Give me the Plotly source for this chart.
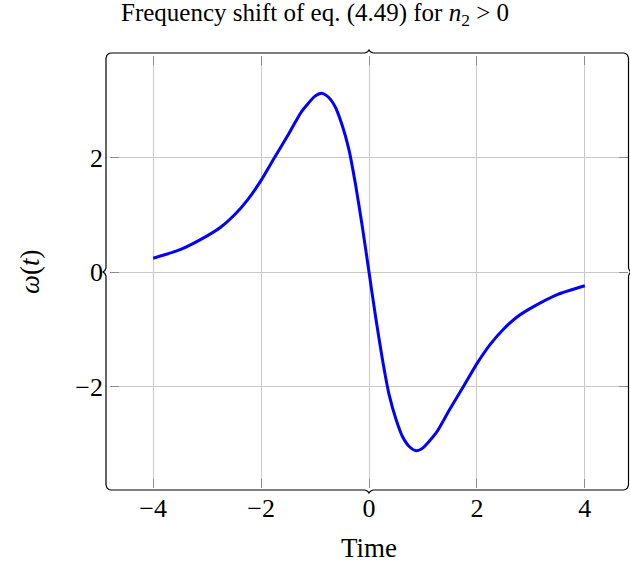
import plotly.graph_objects as go

# Data
time = [-4.0, -3.5, -3.0, -2.75, -2.5, -2.25, -2.0, -1.75, -1.5, -1.25, -1.0, -0.875, -0.75,
        -0.625, -0.5, -0.375, -0.25, -0.125, 0.0, 0.125, 0.25, 0.375, 0.5, 0.625, 0.75,
        0.875, 1.0, 1.25, 1.5, 1.75, 2.0, 2.25, 2.5, 2.75, 3.0, 3.5, 4.0]
omega = [0.24, 0.39, 0.63, 0.78, 0.99, 1.26, 1.60, 2.00, 2.39, 2.80, 3.07, 3.12, 3.05,
         2.88, 2.57, 2.15, 1.53, 0.80, 0.0, -0.80, -1.53, -2.15, -2.57, -2.88, -3.05,
         -3.12, -3.07, -2.80, -2.39, -2.00, -1.60, -1.26, -0.99, -0.78, -0.63, -0.39, -0.24]
x_ticks = [-4, -2, 0, 2, 4]
y_ticks = [-2, 0, 2]

W, H = 630, 564
L, R, T, B = 110, 2, 56, 76
PW, PH = W - L - R, H - T - B

def px(x, y):
    return (x - L) / PW, (H - B - y) / PH

def path(points):
    s = ""
    for i, (x, y) in enumerate(points):
        a, b = px(x, y)
        s += ("M" if i == 0 else " L") + f"{a:.5f},{b:.5f}"
    return s

FONT = "Liberation Serif"

def lab(v):
    return ("−" + str(-v)) if v < 0 else str(v)

fig = go.Figure()
fig.add_trace(go.Scatter(x=time, y=omega, mode="lines",
                         line=dict(color="#0000ff", width=3, shape="spline", smoothing=0.6),
                         showlegend=False))

# brace-style axis frame
xl, xr, yt, yb, cx, cy = 106, 628.5, 53, 490, 369, 272
r = 5
shapes = []
def seg(pts):
    shapes.append(dict(type="path", xref="paper", yref="paper", path=path(pts),
                       line=dict(color="black", width=1.2)))
# top
seg([(xl, yt + r), (xl + 1, yt + 2), (xl + 3, yt + 0.5), (xl + r, yt), (cx - 4, yt), (cx - 1.5, yt - 1.2), (cx, yt - 3),
     (cx + 1.5, yt - 1.2), (cx + 4, yt), (xr - r, yt), (xr - 3, yt + 0.5), (xr - 1, yt + 2), (xr, yt + r)])
# bottom
seg([(xl, yb - r), (xl + 1, yb - 2), (xl + 3, yb - 0.5), (xl + r, yb), (cx - 4, yb), (cx - 1.5, yb + 1.2), (cx, yb + 3),
     (cx + 1.5, yb + 1.2), (cx + 4, yb), (xr - r, yb), (xr - 3, yb - 0.5), (xr - 1, yb - 2), (xr, yb - r)])
# left
seg([(xl, yt + r), (xl, cy - 4), (xl - 1.2, cy - 1.5), (xl - 3, cy), (xl - 1.2, cy + 1.5), (xl, cy + 4), (xl, yb - r)])
# right
seg([(xr, yt + r), (xr, cy - 4), (xr + 1, cy - 1.5), (xr + 2, cy), (xr + 1, cy + 1.5), (xr, cy + 4), (xr, yb - r)])

tx, ty = px(315, 15)
ylx, yly = px(30, 272)
xlx, xly = px(369, 548)
annotations = [
    dict(text="Frequency shift of eq. (4.49) for <i>n</i><sub>2</sub> &gt; 0", x=tx, y=ty,
         xref="paper", yref="paper", showarrow=False, font=dict(family=FONT, size=25, color="black"),
         xanchor="center", yanchor="middle"),
    dict(text="<i>ω</i>(<i>t</i>)", x=ylx, y=yly, xref="paper", yref="paper", showarrow=False,
         textangle=-90, font=dict(family=FONT, size=27, color="black"), xanchor="center", yanchor="middle"),
    dict(text="Time", x=xlx, y=xly, xref="paper", yref="paper", showarrow=False,
         font=dict(family=FONT, size=27, color="black"), xanchor="center", yanchor="middle"),
]

fig.update_layout(
    width=W, height=H,
    margin=dict(l=L, r=R, t=T, b=B),
    paper_bgcolor="white", plot_bgcolor="white",
    shapes=shapes, annotations=annotations,
    font=dict(family=FONT, size=26, color="black"),
    xaxis=dict(range=[-4.8, 4.8], tickvals=x_ticks, ticktext=[lab(v) for v in x_ticks],
               showgrid=True, gridcolor="#c8c8c8", gridwidth=1, zeroline=False, showline=False,
               ticks="inside", ticklen=9, tickcolor="#8c8c8c", tickwidth=1, mirror="ticks",
               ticklabelstandoff=2),
    yaxis=dict(range=[-3.77, 3.77], tickvals=y_ticks, ticktext=[lab(v) for v in y_ticks],
               showgrid=True, gridcolor="#c8c8c8", gridwidth=1, zeroline=False, showline=False,
               ticks="inside", ticklen=9, tickcolor="#8c8c8c", tickwidth=1, mirror="ticks",
               ticklabelstandoff=6),
)

fig.write_html("out.html")
